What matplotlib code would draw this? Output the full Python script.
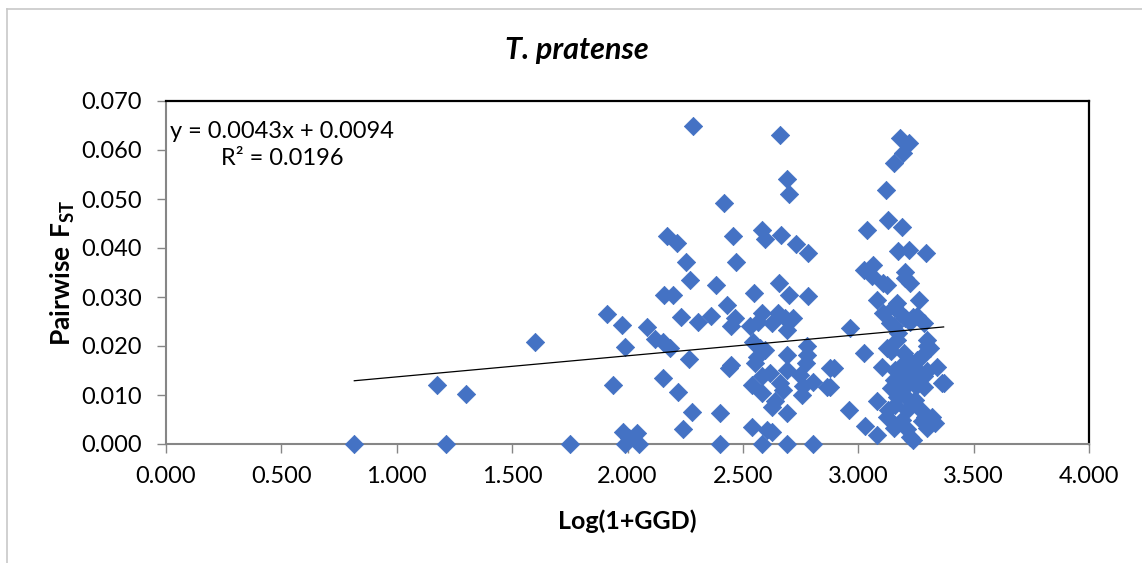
import matplotlib
matplotlib.use("Agg")
import matplotlib.pyplot as plt
import numpy as np

plt.rcParams['font.family'] = ['Lato', 'DejaVu Sans']
plt.rcParams['mathtext.fontset'] = 'custom'
plt.rcParams['mathtext.rm'] = 'Lato'
plt.rcParams['mathtext.bf'] = 'Lato:bold'

# ---- data ----
log_ggd = [
    0.816, 1.173, 1.299, 1.212, 1.600, 1.751,
    1.910, 1.978, 1.988, 1.936,
    1.982, 2.040, 1.990, 2.048, 2.005,
    2.283, 2.173, 2.216, 2.254, 2.271, 2.384,
    2.159, 2.196, 2.232, 2.307, 2.362, 2.086,
    2.120, 2.156, 2.185, 2.267, 2.156, 2.221,
    2.279, 2.240, 2.399, 2.401,
    2.661, 2.690, 2.698, 2.420, 2.456, 2.582,
    2.594, 2.666, 2.729, 2.784, 2.471, 2.550,
    2.657, 2.698, 2.784, 2.430, 2.465, 2.450,
    2.582, 2.531, 2.567, 2.654, 2.683, 2.719,
    2.625, 2.690, 2.546, 2.597, 2.690, 2.777,
    2.777, 2.774, 2.448, 2.440, 2.553,
    2.539, 2.582, 2.582, 2.618, 2.661, 2.690,
    2.676, 2.748, 2.762, 2.806, 2.756, 2.640,
    2.625, 2.690, 2.864, 2.878, 2.539, 2.625,
    2.582, 2.693, 2.802, 2.604, 2.560, 2.575,
    3.182, 3.218, 3.196, 3.153, 3.120, 3.127,
    3.189, 3.037, 3.174, 3.218, 3.293, 3.023,
    3.066, 3.059, 3.124, 3.203, 3.225, 3.265,
    3.081, 3.109, 3.167, 2.965, 3.153, 3.283,
    3.174, 3.297, 3.026, 3.102, 3.160, 3.341,
    3.362, 3.283, 3.081, 2.958, 3.124, 3.030,
    3.081, 3.239, 3.210,
    3.109, 3.203, 3.153, 3.182, 3.138, 3.239,
    3.312, 3.167, 3.124, 3.182, 3.254, 3.153,
    3.239, 3.283, 3.182, 3.131, 3.247, 3.211,
    3.319, 3.276, 3.153, 3.225, 3.297,
    3.203, 3.225, 3.254, 3.200, 3.225, 3.275,
    3.297, 3.140, 3.200, 3.260, 3.300, 3.140,
    3.210, 3.170, 3.200, 3.270, 3.290, 3.310,
    3.190, 3.160, 3.250, 2.893, 2.878, 3.333,
    3.370,
]
fst = [
    0.0000, 0.0120, 0.0102, 0.0000, 0.0209, 0.0000,
    0.0266, 0.0242, 0.0197, 0.0121,
    0.0025, 0.0022, 0.0001, 0.0000, 0.0012,
    0.0650, 0.0425, 0.0410, 0.0371, 0.0335, 0.0325,
    0.0305, 0.0305, 0.0259, 0.0250, 0.0261, 0.0239,
    0.0214, 0.0209, 0.0196, 0.0173, 0.0134, 0.0106,
    0.0065, 0.0030, 0.0063, 0.0001,
    0.0630, 0.0541, 0.0511, 0.0492, 0.0425, 0.0436,
    0.0419, 0.0427, 0.0409, 0.0390, 0.0371, 0.0308,
    0.0329, 0.0305, 0.0303, 0.0284, 0.0258, 0.0240,
    0.0267, 0.0240, 0.0249, 0.0267, 0.0257, 0.0257,
    0.0247, 0.0233, 0.0209, 0.0192, 0.0182, 0.0199,
    0.0182, 0.0165, 0.0162, 0.0155, 0.0165,
    0.0121, 0.0138, 0.0104, 0.0145, 0.0124, 0.0151,
    0.0111, 0.0141, 0.0118, 0.0127, 0.0100, 0.0087,
    0.0076, 0.0063, 0.0117, 0.0155, 0.0035, 0.0025,
    0.0001, 0.0001, 0.0001, 0.0029, 0.0178, 0.0195,
    0.0625, 0.0615, 0.0594, 0.0574, 0.0519, 0.0458,
    0.0443, 0.0436, 0.0393, 0.0395, 0.0389, 0.0356,
    0.0366, 0.0342, 0.0325, 0.0352, 0.0329, 0.0294,
    0.0294, 0.0267, 0.0288, 0.0237, 0.0240, 0.0247,
    0.0226, 0.0213, 0.0185, 0.0158, 0.0151, 0.0158,
    0.0124, 0.0138, 0.0087, 0.0070, 0.0056, 0.0037,
    0.0018, 0.0008, 0.0030,
    0.0329, 0.0339, 0.0280, 0.0267, 0.0247, 0.0260,
    0.0196, 0.0213, 0.0196, 0.0158, 0.0172, 0.0131,
    0.0138, 0.0117, 0.0110, 0.0070, 0.0090, 0.0070,
    0.0056, 0.0046, 0.0033, 0.0015, 0.0033,
    0.0257, 0.0250, 0.0262, 0.0185, 0.0170, 0.0180,
    0.0200, 0.0190, 0.0145, 0.0150, 0.0150, 0.0115,
    0.0120, 0.0095, 0.0100, 0.0070, 0.0055, 0.0045,
    0.0050, 0.0080, 0.0118, 0.0155, 0.0117, 0.0042,
    0.0124,
]
trend_slope = 0.0043
trend_intercept = 0.0094
r_squared = 0.0196

x_ticks = [0.0, 0.5, 1.0, 1.5, 2.0, 2.5, 3.0, 3.5, 4.0]
y_ticks = [0.0, 0.01, 0.02, 0.03, 0.04, 0.05, 0.06, 0.07]

title = "T. pratense"
x_label = "Log(1+GGD)"

# ---- figure ----
W, H = 1142, 563
fig = plt.figure(figsize=(W / 100, H / 100), dpi=100)
fig.patch.set_facecolor('white')

def fx(px):
    return px / W

def fy(py):
    return 1 - py / H

L, R, T, B = 166, 1089, 101, 444
ax = fig.add_axes([fx(L), fy(B), fx(R) - fx(L), fy(T) - fy(B)])

ax.scatter(log_ggd, fst, marker='D', s=86, color='#4472C4',
           edgecolor='#4472C4', linewidths=0.6, zorder=3, clip_on=False)

xs = np.array([min(log_ggd), max(log_ggd)])
ax.plot(xs, trend_slope * xs + trend_intercept, color='black', lw=0.9, zorder=4)

ax.set_xlim(0, 4)
ax.set_ylim(0, 0.07)
ax.set_xticks(x_ticks)
ax.set_yticks(y_ticks)
ax.set_xticklabels([f"{v:.3f}" for v in x_ticks])
ax.set_yticklabels([f"{v:.3f}" for v in y_ticks])

for s in ['left', 'bottom']:
    ax.spines[s].set_color('#868686')
    ax.spines[s].set_linewidth(1.5)
for s in ['top', 'right']:
    ax.spines[s].set_color('black')
    ax.spines[s].set_linewidth(1.6)
ax.tick_params(axis='both', direction='out', length=6.5, width=1.0,
               color='#868686', labelsize=17, labelcolor='black')
ax.tick_params(axis='y', pad=11)
ax.tick_params(axis='x', pad=9)

ax.text((282 - L) / (R - L), (B - 145) / (B - T),
        f"y = {trend_slope:.4f}x + {trend_intercept:.4f}\nR\u00b2 = {r_squared:.4f}",
        transform=ax.transAxes, ha='center', va='center', fontsize=17,
        linespacing=1.3, multialignment='center')

ax.set_xlabel(x_label, fontsize=18, fontweight='bold')
ax.xaxis.set_label_coords(0.5, (B - 521) / (B - T))
ax.xaxis.label.set_va('center')
ax.set_ylabel(r'$\mathbf{Pairwise\ F_{ST}}$', fontsize=19)
ax.yaxis.set_label_coords((63 - L) / (R - L), 0.5)
ax.yaxis.label.set_va('center')

fig.text(fx(577), fy(50), title, ha='center', va='center', fontsize=22,
         fontweight='bold', fontstyle='italic')

# outer chart border
fig.add_artist(plt.Line2D([fx(7), fx(7)], [fy(9), 0], transform=fig.transFigure,
                          color='#c8c8c8', lw=1.2))
fig.add_artist(plt.Line2D([fx(7), 1], [fy(9), fy(9)], transform=fig.transFigure,
                          color='#c8c8c8', lw=1.2))

fig.savefig('out.png', dpi=100, facecolor='white')
